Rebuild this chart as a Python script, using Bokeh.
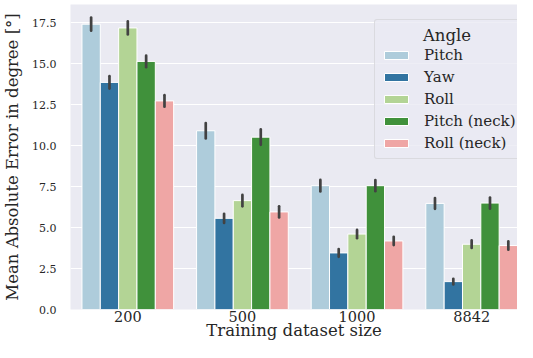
from bokeh.plotting import figure
from bokeh.models import Range1d, FixedTicker, NumeralTickFormatter, ColumnDataSource
from bokeh.embed import file_html
from bokeh.resources import INLINE

categories = ["200", "500", "1000", "8842"]
series = ["Pitch", "Yaw", "Roll", "Pitch (neck)", "Roll (neck)"]
legend_title = "Angle"

pitch = [17.40, 10.90, 7.55, 6.47]
yaw = [13.85, 5.56, 3.45, 1.70]
roll = [17.17, 6.64, 4.60, 3.98]
pitch_neck = [15.13, 10.51, 7.55, 6.49]
roll_neck = [12.72, 5.95, 4.18, 3.90]

pitch_err = [0.40, 0.47, 0.35, 0.33]
yaw_err = [0.38, 0.28, 0.24, 0.17]
roll_err = [0.40, 0.35, 0.25, 0.23]
pitch_neck_err = [0.35, 0.47, 0.34, 0.34]
roll_neck_err = [0.35, 0.34, 0.25, 0.25]

y_ticks = [0.0, 2.5, 5.0, 7.5, 10.0, 12.5, 15.0, 17.5]

colors = ["#aeccdb", "#3274a1", "#b3d495", "#40913b", "#efa6a5"]
values = [pitch, yaw, roll, pitch_neck, roll_neck]
errors = [pitch_err, yaw_err, roll_err, pitch_neck_err, roll_neck_err]

FONT = "DejaVu Serif"
LEGFONT = "DejaVu Serif, serif"
TEXT = "#262626"

p = figure(width=517, height=342, output_backend="svg", toolbar_location=None,
           x_range=Range1d(0, 3.9), y_range=Range1d(0, 18.6),
           min_border_left=66, min_border_top=4, min_border_right=0, min_border_bottom=0)
p.background_fill_color = "#eaeaf2"
p.border_fill_color = "white"
p.outline_line_color = None

n = len(series)
bw = 0.8 / n
for j, (name, vals, errs, col) in enumerate(zip(series, values, errors, colors)):
    xs = [i + 0.5 + (j - (n - 1) / 2) * bw for i in range(len(categories))]
    src = ColumnDataSource(dict(x=xs, top=vals,
                                lo=[v - e for v, e in zip(vals, errs)],
                                hi=[v + e for v, e in zip(vals, errs)]))
    p.vbar(x="x", top="top", bottom=0, width=bw, source=src, fill_color=col,
           line_color="white", line_width=1, legend_label=name)
    p.segment(x0="x", y0="lo", x1="x", y1="hi", source=src, line_color="#424242",
              line_width=2.7, line_cap="round")

p.xgrid.visible = False
p.ygrid.grid_line_color = "white"
p.ygrid.grid_line_width = 1.2
p.ygrid.ticker = FixedTicker(ticks=y_ticks)

p.xaxis.ticker = FixedTicker(ticks=[i + 0.5 for i in range(len(categories))])
p.xaxis.major_label_overrides = {i + 0.5: c for i, c in enumerate(categories)}
p.yaxis.ticker = FixedTicker(ticks=y_ticks)
p.yaxis.formatter = NumeralTickFormatter(format="0.0")

for ax in (p.xaxis[0], p.yaxis[0]):
    ax.axis_line_color = None
    ax.major_tick_line_color = None
    ax.minor_tick_line_color = None
    ax.major_tick_out = 0
    ax.major_tick_in = 0
    ax.minor_tick_out = 0
    ax.minor_tick_in = 0
    ax.major_label_text_font = FONT
    ax.major_label_text_color = TEXT
    ax.axis_label_text_font = FONT
    ax.axis_label_text_color = TEXT
    ax.axis_label_text_font_style = "normal"
    ax.axis_label_text_font_size = "16.5px"

p.xaxis.axis_label = "Training dataset size"
p.yaxis.axis_label = "Mean Absolute Error in degree [°]"
p.xaxis.major_label_text_font_size = "14.5px"
p.yaxis.major_label_text_font_size = "11px"
p.xaxis.major_label_standoff = 1
p.xaxis.axis_label_standoff = -4
p.yaxis.major_label_standoff = 14
p.yaxis.axis_label_standoff = 7

leg = p.legend[0]
leg.title = "\u00a0" * 8 + legend_title
leg.title_text_font = LEGFONT
leg.title_text_font_style = "normal"
leg.title_text_color = TEXT
leg.title_text_font_size = "16.5px"
leg.title_standoff = 1
leg.label_text_font = LEGFONT
leg.label_text_font_style = "normal"
leg.label_text_font_size = "15px"
leg.label_text_color = TEXT
leg.glyph_width = 30
leg.glyph_height = 10
leg.label_height = 18
leg.label_standoff = 13
leg.spacing = 4
leg.padding = 6
leg.margin = 0
leg.background_fill_color = "#eaeaf2"
leg.background_fill_alpha = 0.8
leg.border_line_color = "#cccccc"
leg.border_line_width = 1
if "border_radius" in leg.properties():
    leg.border_radius = 3
leg.location = (304, 150)

open("out.html", "w").write(file_html(p, INLINE))
